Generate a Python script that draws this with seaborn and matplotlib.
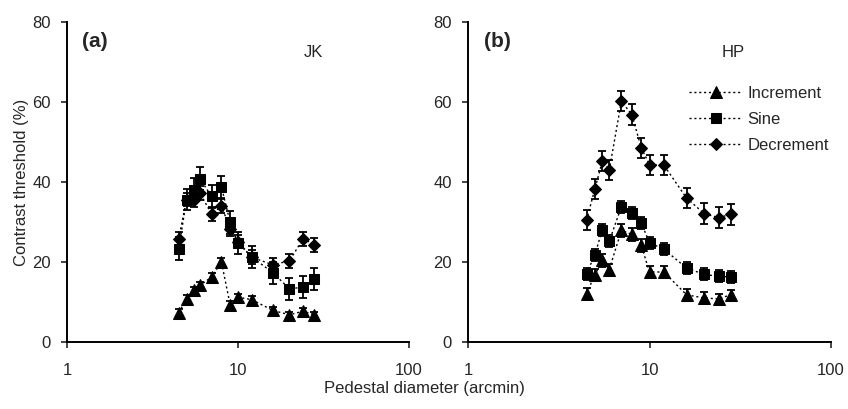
import pandas as pd
import matplotlib
matplotlib.use('Agg')
import matplotlib.pyplot as plt
import seaborn as sns

# pedestal diameters (arcmin), same for every series
diameter = [4.5, 5, 5.5, 6, 7, 8, 9, 10, 12, 16, 20, 24, 28]

# observer JK, panel (a)
inc_jk = [7.3, 10.8, 12.9, 14.2, 16.2, 20.0, 9.3, 11.2, 10.6, 7.9, 6.8, 7.7, 6.8]
inc_jk_err = [0.9, 0.9, 0.9, 0.9, 1.0, 1.0, 0.9, 0.9, 0.9, 0.9, 0.8, 0.8, 0.8]
sine_jk = [23.3, 35.6, 38.1, 40.8, 36.4, 38.8, 29.9, 24.8, 21.3, 17.3, 13.3, 13.7, 15.8]
sine_jk_err = [2.9, 2.7, 2.9, 2.9, 2.9, 2.8, 2.9, 2.7, 2.7, 2.8, 2.8, 2.8, 2.8]
dec_jk = [25.8, 35.6, 35.4, 37.2, 32.0, 34.0, 28.3, 25.1, 21.2, 19.3, 20.3, 25.8, 24.3]
dec_jk_err = [1.7, 1.7, 1.7, 1.7, 1.7, 1.7, 1.7, 1.7, 1.7, 1.7, 1.7, 1.7, 1.7]

# observer HP, panel (b)
inc_hp = [12.1, 16.8, 20.4, 18.1, 27.9, 26.9, 24.2, 17.5, 17.5, 11.8, 11.0, 10.8, 11.8]
inc_hp_err = [1.3, 1.5, 1.7, 1.4, 1.7, 1.7, 1.6, 1.5, 1.5, 1.4, 1.4, 1.3, 1.3]
sine_hp = [17.1, 21.8, 28.1, 25.2, 33.8, 32.3, 29.8, 24.8, 23.2, 18.5, 16.9, 16.4, 16.3]
sine_hp_err = [1.5, 1.5, 1.5, 1.5, 1.5, 1.5, 1.5, 1.5, 1.5, 1.5, 1.5, 1.5, 1.5]
dec_hp = [30.4, 38.3, 45.2, 42.9, 60.2, 56.8, 48.6, 44.3, 44.2, 36.0, 32.1, 31.1, 31.9]
dec_hp_err = [2.5, 2.5, 2.5, 2.5, 2.5, 2.6, 2.5, 2.5, 2.5, 2.5, 2.6, 2.6, 2.6]

conditions = ['Increment', 'Sine', 'Decrement']
markers = {'Increment': '^', 'Sine': 's', 'Decrement': 'D'}
msizes = {'Increment': 8.5, 'Sine': 7.5, 'Decrement': 6.5}

sns.set_style('ticks')
plt.rcParams['font.family'] = ['Liberation Sans', 'DejaVu Sans']
plt.rcParams['font.size'] = 12


def build_frame(values, errors):
    rows = []
    for cond, vals, errs in zip(conditions, values, errors):
        for d, v, e in zip(diameter, vals, errs):
            rows.append({'diameter': d, 'threshold': v, 'err': e, 'condition': cond})
    return pd.DataFrame(rows)


def draw_panel(ax, df, letter, observer, obs_x, show_legend):
    for cond in conditions:
        sub = df[df['condition'] == cond]
        ax.errorbar(sub['diameter'], sub['threshold'], yerr=sub['err'], fmt='none',
                    ecolor='black', elinewidth=1.3, capsize=3.2, capthick=1.3, zorder=2)
        sns.lineplot(data=sub, x='diameter', y='threshold', ax=ax, color='black',
                     marker=markers[cond], markersize=msizes[cond], markeredgecolor='black',
                     linestyle=(0, (1.5, 2)), linewidth=1.0, label=cond, zorder=3)
    ax.set_xscale('log')
    ax.set_xlim(1, 100)
    ax.set_ylim(0, 80)
    ax.set_xticks([1, 10, 100])
    ax.set_xticklabels(['1', '10', '100'])
    ax.minorticks_off()
    ax.set_yticks([0, 20, 40, 60, 80])
    ax.set_xlabel('')
    ax.set_ylabel('')
    ax.tick_params(axis='x', direction='out', length=4, width=1.2, pad=11, labelsize=12)
    ax.tick_params(axis='y', direction='out', length=4, width=1.2, pad=7.5, labelsize=12)
    for side in ['top', 'right']:
        ax.spines[side].set_visible(False)
    for side in ['left', 'bottom']:
        ax.spines[side].set_linewidth(1.4)
        ax.spines[side].set_color('black')
    ax.text(0.045, 0.94, letter, transform=ax.transAxes, fontsize=15,
            fontweight='bold', va='center', ha='left')
    ax.text(obs_x, 0.905, observer, transform=ax.transAxes, fontsize=12,
            va='center', ha='center')
    if show_legend:
        ax.legend(loc='upper left', bbox_to_anchor=(0.59, 0.82), frameon=False,
                  handlelength=3.2, handletextpad=0.3, labelspacing=0.66,
                  borderaxespad=0, fontsize=12)
    else:
        leg = ax.get_legend()
        if leg is not None:
            leg.remove()


fig = plt.figure(figsize=(8.48, 4.09), dpi=100)
ax_a = fig.add_axes([67 / 848, 67 / 409, 342 / 848, 320 / 409])
ax_b = fig.add_axes([468 / 848, 67 / 409, 363 / 848, 320 / 409])

df_jk = build_frame([inc_jk, sine_jk, dec_jk], [inc_jk_err, sine_jk_err, dec_jk_err])
df_hp = build_frame([inc_hp, sine_hp, dec_hp], [inc_hp_err, sine_hp_err, dec_hp_err])

draw_panel(ax_a, df_jk, '(a)', 'JK', 0.72, False)
draw_panel(ax_b, df_hp, '(b)', 'HP', 0.73, True)

fig.text(22 / 848, 1 - 182 / 409, 'Contrast threshold (%)', rotation=90,
         ha='center', va='center', fontsize=12)
fig.text(424 / 848, 1 - 388 / 409, 'Pedestal diameter (arcmin)',
         ha='center', va='center', fontsize=12)

fig.savefig('out.png', dpi=100)
